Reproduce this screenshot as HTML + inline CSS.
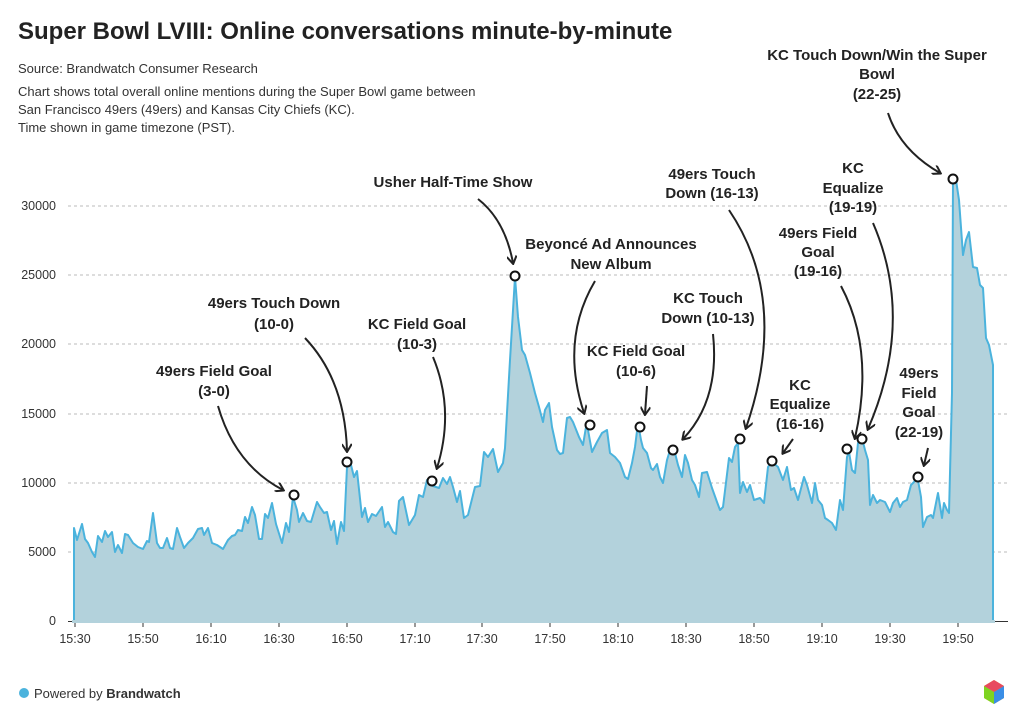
<!DOCTYPE html>
<html><head><meta charset="utf-8"><style>
body{margin:0;width:1024px;height:725px;background:#fff;font-family:"Liberation Sans",sans-serif;overflow:hidden;position:relative;color:#222}
.t{position:absolute;left:18px;top:18px;font-size:24px;font-weight:bold;color:#222}
.s{position:absolute;left:18px;font-size:13px;color:#333}
</style></head><body>
<div class="t">Super Bowl LVIII: Online conversations minute-by-minute</div>
<div class="s" style="top:61px">Source: Brandwatch Consumer Research</div>
<div class="s" style="top:83px;line-height:18px">Chart shows total overall online mentions during the Super Bowl game between<br>San Francisco 49ers (49ers) and Kansas City Chiefs (KC).<br>Time shown in game timezone (PST).</div>
<svg width="1024" height="725" style="position:absolute;left:0;top:0" font-family="Liberation Sans, sans-serif">
<defs><marker id="a" markerWidth="10" markerHeight="10" refX="8" refY="5" orient="auto" markerUnits="userSpaceOnUse"><path d="M1,0 L9,5 L1,10" fill="none" stroke="#222" stroke-width="2"/></marker></defs>
<g stroke="#bbb" stroke-dasharray="3,3" stroke-width="1">
<line x1="68" x2="1008" y1="206" y2="206"/><line x1="68" x2="1008" y1="275" y2="275"/><line x1="68" x2="1008" y1="344" y2="344"/><line x1="68" x2="1008" y1="414" y2="414"/><line x1="68" x2="1008" y1="483" y2="483"/><line x1="68" x2="1008" y1="552" y2="552"/>
</g>
<line x1="68" x2="1008" y1="621.5" y2="621.5" stroke="#333"/>
<g font-size="12.5" fill="#333" text-anchor="end">
<text x="56" y="210">30000</text><text x="56" y="279">25000</text><text x="56" y="348">20000</text><text x="56" y="418">15000</text><text x="56" y="487">10000</text><text x="56" y="556">5000</text><text x="56" y="625">0</text></g>
<g font-size="12.5" fill="#333" text-anchor="middle">
<text x="75" y="643">15:30</text><text x="143" y="643">15:50</text><text x="211" y="643">16:10</text><text x="279" y="643">16:30</text><text x="347" y="643">16:50</text><text x="415" y="643">17:10</text><text x="482" y="643">17:30</text><text x="550" y="643">17:50</text><text x="618" y="643">18:10</text><text x="686" y="643">18:30</text><text x="754" y="643">18:50</text><text x="822" y="643">19:10</text><text x="890" y="643">19:30</text><text x="958" y="643">19:50</text></g>
<g stroke="#333"><line x1="75" x2="75" y1="621" y2="627"/><line x1="143" x2="143" y1="621" y2="627"/><line x1="211" x2="211" y1="621" y2="627"/><line x1="279" x2="279" y1="621" y2="627"/><line x1="347" x2="347" y1="621" y2="627"/><line x1="415" x2="415" y1="621" y2="627"/><line x1="482" x2="482" y1="621" y2="627"/><line x1="550" x2="550" y1="621" y2="627"/><line x1="618" x2="618" y1="621" y2="627"/><line x1="686" x2="686" y1="621" y2="627"/><line x1="754" x2="754" y1="621" y2="627"/><line x1="822" x2="822" y1="621" y2="627"/><line x1="890" x2="890" y1="621" y2="627"/><line x1="958" x2="958" y1="621" y2="627"/></g>
<polygon fill="#b3d2dc" points="74,621 74,528 77,540 82,524 85,539 88,543 92,552 95,557 98,536 102,542 105,531 108,537 112,532 115,552 118,545 122,553 125,534 128,535 133,543 138,547 143,549 147,541 149,542 153,513 157,543 160,548 163,548 167,538 170,548 173,549 177,528 180,537 184,548 188,543 193,538 198,529 202,528 204,535 208,528 212,543 217,545 223,549 228,540 232,536 235,535 238,530 242,531 245,517 248,523 252,507 255,515 259,539 262,539 265,514 268,518 272,503 276,524 282,543 286,523 289,532 293,497 297,510 299,522 303,513 307,521 311,522 317,502 320,507 324,513 327,512 331,530 334,521 337,544 341,522 344,531 347,467 351,465 354,477 357,471 362,517 365,508 368,522 372,514 376,516 382,507 385,527 388,522 393,532 396,534 399,501 403,497 409,525 415,515 419,495 423,497 427,480 433,486 439,488 443,478 447,484 450,477 453,487 457,502 460,491 464,518 468,515 475,487 480,486 484,452 488,457 493,449 498,472 503,463 505,448 510,360 515,277 518,317 522,350 525,355 530,373 535,393 539,407 543,422 545,410 549,403 552,427 557,450 560,454 563,453 567,418 570,417 573,422 579,437 583,445 586,427 588,430 592,452 597,442 602,433 607,430 610,453 615,457 620,463 625,477 628,479 632,463 635,447 638,423 641,440 643,448 647,453 651,468 653,470 657,464 660,477 663,483 667,460 671,447 675,453 678,465 682,477 685,455 688,463 692,480 695,485 699,497 702,473 707,472 712,488 717,502 720,510 723,507 729,458 732,462 735,447 738,443 740,493 743,482 747,492 750,485 754,500 760,498 764,503 768,467 772,462 778,467 783,480 787,467 791,490 794,488 798,500 804,477 807,485 812,503 815,483 818,500 822,505 825,518 828,520 832,523 836,530 840,500 843,510 847,457 849,452 852,470 855,473 858,443 862,438 865,450 868,460 870,505 873,495 877,503 880,500 885,502 890,512 893,503 897,498 900,507 903,502 907,500 911,485 914,482 917,475 921,497 923,527 927,517 931,515 933,518 938,493 942,518 944,503 947,510 949,513 952,393 953,180 956,180 959,200 963,255 966,240 969,232 973,267 977,268 980,285 983,288 986,338 989,345 993,365 993,621" stroke="#4bb3dd" stroke-width="2" stroke-linejoin="round"/>
<rect x="72" y="620" width="923" height="3" fill="#b3d2dc"/>
<g fill="#fff" stroke="#111" stroke-width="2">
<circle cx="294" cy="495" r="4.5"/><circle cx="347" cy="462" r="4.5"/><circle cx="432" cy="481" r="4.5"/><circle cx="515" cy="276" r="4.5"/><circle cx="590" cy="425" r="4.5"/><circle cx="640" cy="427" r="4.5"/><circle cx="673" cy="450" r="4.5"/><circle cx="740" cy="439" r="4.5"/><circle cx="772" cy="461" r="4.5"/><circle cx="847" cy="449" r="4.5"/><circle cx="862" cy="439" r="4.5"/><circle cx="918" cy="477" r="4.5"/><circle cx="953" cy="179" r="4.5"/></g>
<g fill="none" stroke="#222" stroke-width="2" marker-end="url(#a)">
<path d="M218,406 Q235,465 283,490"/>
<path d="M305,338 Q345,380 347,451"/>
<path d="M433,357 Q455,410 437,468"/>
<path d="M478,199 Q505,220 513,263"/>
<path d="M595,281 Q560,340 584,413"/>
<path d="M647,386 L645,414"/>
<path d="M713,334 Q720,400 683,439"/>
<path d="M729,210 Q790,300 746,428"/>
<path d="M793,439 L783,453"/>
<path d="M841,286 Q875,350 855,438"/>
<path d="M873,223 Q915,320 868,429"/>
<path d="M928,448 L924,465"/>
<path d="M888,113 Q900,150 940,173"/>
</g>
<g font-size="15" font-weight="bold" fill="#222" text-anchor="middle">
<text x="214" y="376">49ers Field Goal</text><text x="214" y="396">(3-0)</text>
<text x="274" y="308">49ers Touch Down</text><text x="274" y="329">(10-0)</text>
<text x="417" y="329">KC Field Goal</text><text x="417" y="349">(10-3)</text>
<text x="453" y="187">Usher Half-Time Show</text>
<text x="611" y="249">Beyoncé Ad Announces</text><text x="611" y="269">New Album</text>
<text x="636" y="356">KC Field Goal</text><text x="636" y="376">(10-6)</text>
<text x="708" y="303">KC Touch</text><text x="708" y="323">Down (10-13)</text>
<text x="712" y="179">49ers Touch</text><text x="712" y="198">Down (16-13)</text>
<text x="800" y="390">KC</text><text x="800" y="409">Equalize</text><text x="800" y="429">(16-16)</text>
<text x="818" y="238">49ers Field</text><text x="818" y="257">Goal</text><text x="818" y="276">(19-16)</text>
<text x="853" y="173">KC</text><text x="853" y="193">Equalize</text><text x="853" y="212">(19-19)</text>
<text x="919" y="378">49ers</text><text x="919" y="398">Field</text><text x="919" y="417">Goal</text><text x="919" y="437">(22-19)</text>
<text x="877" y="60">KC Touch Down/Win the Super</text><text x="877" y="79">Bowl</text><text x="877" y="99">(22-25)</text>
</g>
<circle cx="24" cy="693" r="5" fill="#4bb3dd"/>
<text x="34" y="698" font-size="13" fill="#333">Powered by <tspan font-weight="bold">Brandwatch</tspan></text>
<g transform="translate(994,692)"><polygon points="0,-12 10,-6 10,6 0,12 -10,6 -10,-6" fill="#f5a623"/><polygon points="0,-12 10,-6 0,0 -10,-6" fill="#e84a5f"/><polygon points="0,0 10,-6 10,6 0,12" fill="#3a8ee6"/><polygon points="0,0 0,12 -10,6 -10,-6" fill="#7ed321"/></g>
</svg>
</body></html>
